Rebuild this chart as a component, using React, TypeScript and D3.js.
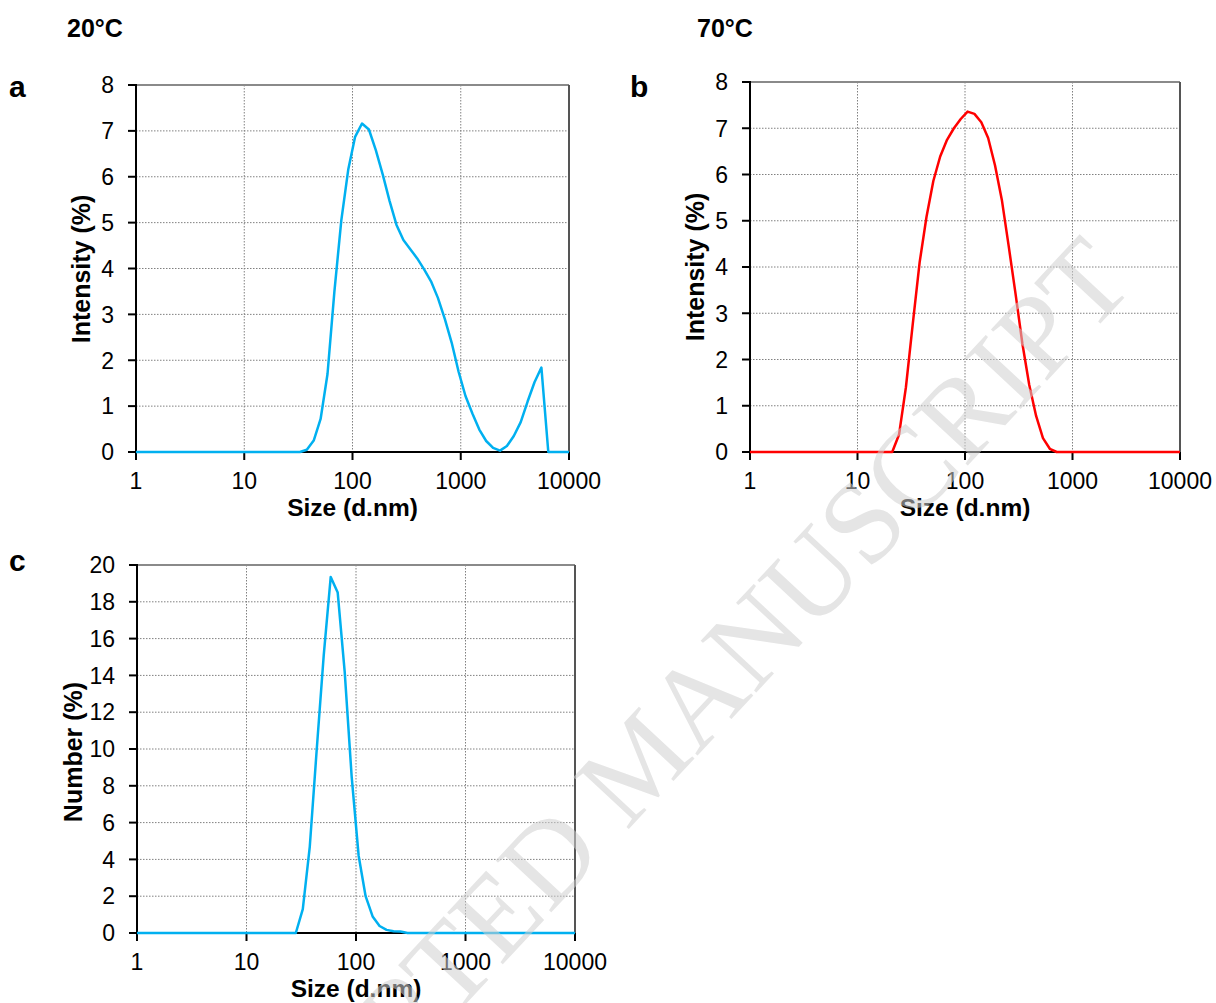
import React from "react";
import * as d3 from "d3";

// ---- Data ----
const sizesA = [1, 32.67, 37.84, 43.82, 50.75, 58.77, 68.06, 78.82, 91.28, 105.7, 122.4, 141.8, 164.2, 190.1, 220.2, 255.0, 295.3, 342.0, 396.1, 458.7, 531.2, 615.1, 712.4, 825.0, 955.4, 1106, 1281, 1484, 1718, 1990, 2305, 2669, 3091, 3580, 4145, 4801, 5560, 6439, 10000];
const intensityA = [0, 0, 0.05, 0.25, 0.72, 1.7, 3.5, 5.05, 6.15, 6.87, 7.16, 7.03, 6.58, 6.05, 5.47, 4.95, 4.62, 4.42, 4.22, 3.98, 3.72, 3.36, 2.9, 2.38, 1.75, 1.22, 0.84, 0.49, 0.24, 0.09, 0.03, 0.13, 0.35, 0.65, 1.1, 1.52, 1.84, 0, 0];

const sizesB = [1, 21.04, 24.36, 28.21, 32.67, 37.84, 43.82, 50.75, 58.77, 68.06, 78.82, 91.28, 105.7, 122.4, 141.8, 164.2, 190.1, 220.2, 255.0, 295.3, 342.0, 396.1, 458.7, 531.2, 615.1, 712.4, 10000];
const intensityB = [0, 0, 0.38, 1.4, 2.77, 4.1, 5.08, 5.86, 6.39, 6.75, 7.0, 7.2, 7.36, 7.31, 7.13, 6.79, 6.2, 5.45, 4.45, 3.42, 2.34, 1.45, 0.78, 0.3, 0.07, 0, 0];

const sizesC = [1, 28.21, 32.67, 37.84, 43.82, 50.75, 58.77, 68.06, 78.82, 91.28, 105.7, 122.4, 141.8, 164.2, 190.1, 220.2, 255.0, 295.3, 10000];
const numberC = [0, 0, 1.3, 4.7, 10.0, 15.1, 19.35, 18.5, 14.2, 8.5, 4.2, 2.0, 0.9, 0.38, 0.17, 0.1, 0.08, 0, 0];

const xTicks = [1, 10, 100, 1000, 10000];
const yTicksAB = [0, 1, 2, 3, 4, 5, 6, 7, 8];
const yTicksC = [0, 2, 4, 6, 8, 10, 12, 14, 16, 18, 20];

const BLUE = "#00B0F0";
const RED = "#FF0000";
const FONT = "'Liberation Sans', Arial, sans-serif";

type PanelProps = {
  left: number; right: number; top: number; bottom: number;
  xs: number[]; ys: number[]; yMax: number; yTicks: number[];
  color: string; yTitle: string; yTitleX: number; yTitleY: number;
};

function Panel(p: PanelProps) {
  const x = d3.scaleLog().domain([1, 10000]).range([p.left, p.right]);
  const y = d3.scaleLinear().domain([0, p.yMax]).range([p.bottom, p.top]);
  const line = d3.line<number>()
    .x((_, i) => x(p.xs[i]))
    .y((d) => y(d));
  return (
    <g>
      {p.yTicks.filter((t) => t > 0 && t < p.yMax).map((t) => (
        <line key={"gy" + t} x1={p.left} x2={p.right} y1={y(t)} y2={y(t)}
          stroke="#808080" strokeWidth={1} strokeDasharray="1.5,1.5" />
      ))}
      {xTicks.filter((t) => t > 1 && t < 10000).map((t) => (
        <line key={"gx" + t} x1={x(t)} x2={x(t)} y1={p.top} y2={p.bottom}
          stroke="#808080" strokeWidth={1} strokeDasharray="1.5,1.5" />
      ))}
      <line x1={p.left} x2={p.right} y1={p.top} y2={p.top} stroke="#8a8a8a" strokeWidth={2} />
      <line x1={p.right} x2={p.right} y1={p.top} y2={p.bottom} stroke="#555" strokeWidth={2} />
      <line x1={p.left} x2={p.left} y1={p.top - 1} y2={p.bottom + 8} stroke="#000" strokeWidth={2} />
      <line x1={p.left} x2={p.right} y1={p.bottom} y2={p.bottom} stroke="#000" strokeWidth={2} />
      {p.yTicks.map((t) => (
        <g key={"ty" + t}>
          <line x1={p.left - 8} x2={p.left} y1={y(t)} y2={y(t)} stroke="#000" strokeWidth={2} />
          <text x={p.left - 22} y={y(t)} dy="0.36em" textAnchor="end" fontSize={23} fontFamily={FONT}>{t}</text>
        </g>
      ))}
      {xTicks.map((t) => (
        <g key={"tx" + t}>
          <line x1={x(t)} x2={x(t)} y1={p.bottom} y2={p.bottom + 8} stroke="#000" strokeWidth={2} />
          <text x={x(t)} y={p.bottom + 37} textAnchor="middle" fontSize={23} fontFamily={FONT}>{t}</text>
        </g>
      ))}
      <path d={line(p.ys) || ""} fill="none" stroke={p.color} strokeWidth={2.5} strokeLinejoin="round" />
      <text x={(p.left + p.right) / 2} y={p.bottom + 64} textAnchor="middle" fontSize={24.5} fontWeight="bold" fontFamily={FONT}>Size (d.nm)</text>
      <text transform={`translate(${p.yTitleX},${p.yTitleY}) rotate(-90)`} textAnchor="middle" dy="0.35em" fontSize={25} fontWeight="bold" fontFamily={FONT}>{p.yTitle}</text>
    </g>
  );
}

export default function App() {
  const wm = "'Liberation Serif', 'Times New Roman', serif";
  return (
    <svg width={1216} height={1003} style={{ position: "absolute", left: 0, top: 0, background: "#fff" }}>
      <rect width={1216} height={1003} fill="#fff" />
      <text x={67} y={37} fontSize={25} fontWeight="bold" fontFamily={FONT}>20°C</text>
      <text x={697} y={37} fontSize={25} fontWeight="bold" fontFamily={FONT}>70°C</text>
      <text x={9} y={97} fontSize={30} fontWeight="bold" fontFamily={FONT}>a</text>
      <text x={630} y={97} fontSize={30} fontWeight="bold" fontFamily={FONT}>b</text>
      <text x={9} y={571} fontSize={30} fontWeight="bold" fontFamily={FONT}>c</text>
      <Panel left={136} right={569} top={85} bottom={452} xs={sizesA} ys={intensityA} yMax={8} yTicks={yTicksAB} color={BLUE} yTitle="Intensity (%)" yTitleX={81} yTitleY={269} />
      <Panel left={750} right={1180} top={82} bottom={452} xs={sizesB} ys={intensityB} yMax={8} yTicks={yTicksAB} color={RED} yTitle="Intensity (%)" yTitleX={695} yTitleY={267} />
      <Panel left={137} right={575} top={565} bottom={933} xs={sizesC} ys={numberC} yMax={20} yTicks={yTicksC} color={BLUE} yTitle="Number (%)" yTitleX={73} yTitleY={752} />
      <g transform="translate(598,805) rotate(-47)" fontSize={116} fontFamily={wm} fill="#d0d0d0" opacity={0.55}>
        <text x={-30} y={0} textAnchor="end" dominantBaseline="central">ACCEPTED</text>
        <text x={0} y={0} textAnchor="start" dominantBaseline="central">MANUSCRIPT</text>
      </g>
    </svg>
  );
}
